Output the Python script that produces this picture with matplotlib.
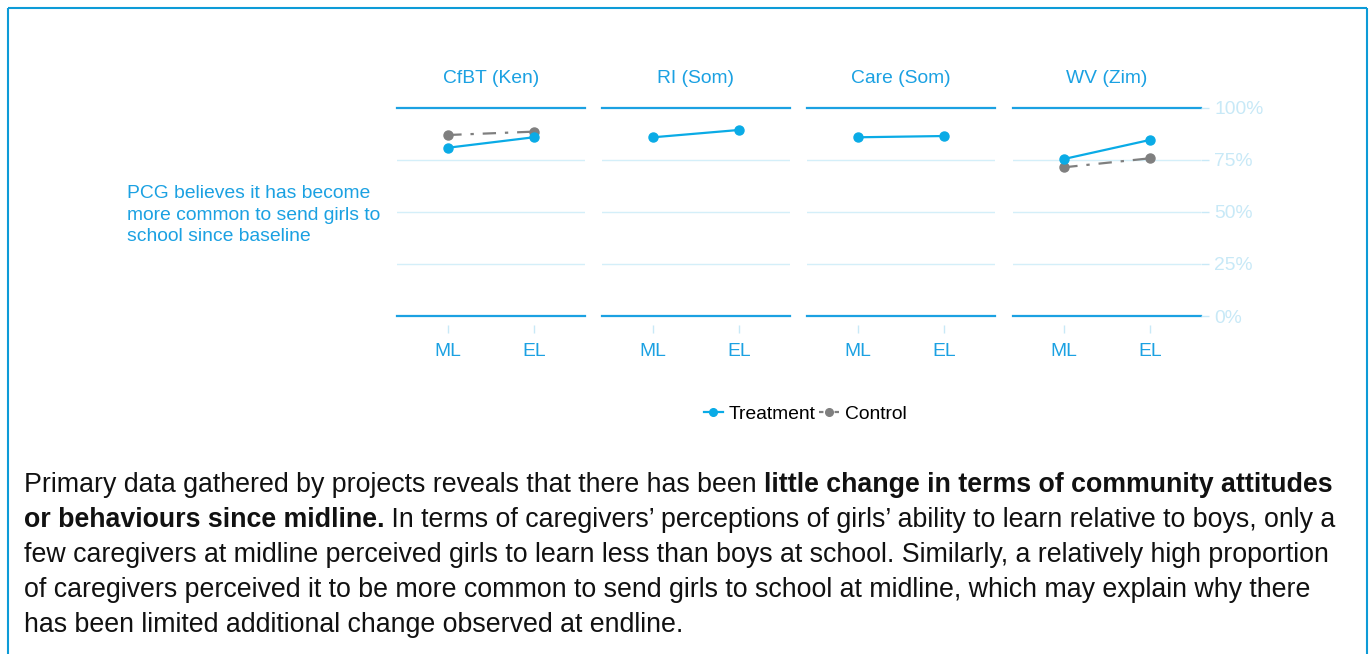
import matplotlib
matplotlib.use("Agg")
import matplotlib.pyplot as plt
from matplotlib.lines import Line2D

plt.rcParams['font.family'] = ['Liberation Sans', 'DejaVu Sans']

# ---------------- data ----------------
projects = ["CfBT (Ken)", "RI (Som)", "Care (Som)", "WV (Zim)"]
rounds = ["ML", "EL"]
treatment = [[80.8, 85.8], [85.8, 89.3], [85.8, 86.4], [75.4, 84.5]]
control = [[86.9, 88.5], None, None, [71.4, 75.7]]
y_ticks = [0, 25, 50, 75, 100]
y_tick_labels = ["0%", "25%", "50%", "75%", "100%"]
row_label = "PCG believes it has become\nmore common to send girls to\nschool since baseline"
legend_labels = ["Treatment", "Control"]

para_lines = [
    [("Primary data gathered by projects reveals that there has been ", "normal"),
     ("little change in terms of community attitudes", "bold")],
    [("or behaviours since midline.", "bold"),
     (" In terms of caregivers\u2019 perceptions of girls\u2019 ability to learn relative to boys, only a", "normal")],
    [("few caregivers at midline perceived girls to learn less than boys at school. Similarly, a relatively high proportion", "normal")],
    [("of caregivers perceived it to be more common to send girls to school at midline, which may explain why there", "normal")],
    [("has been limited additional change observed at endline.", "normal")],
]

# ---------------- style ----------------
W, H = 1370, 654
BLUE = "#1ba1e2"
BORDER = "#0d9bd7"
TREAT = "#0aabe6"
GREY = "#7f7f7f"
GRID = "#d4eff9"
LIGHT = "#c8e9f7"
FS = 13.9

fig = plt.figure(figsize=(W / 100, H / 100), dpi=100)

def fx(px):
    return px / W

def fy(py):
    return 1 - py / H

# border
bax = fig.add_axes([0, 0, 1, 1])
bax.set_xlim(0, W)
bax.set_ylim(H, 0)
bax.axis("off")
bax.plot([8, 1367], [8, 8], color=BORDER, lw=1.5, solid_capstyle="butt")
bax.plot([8, 8], [8, H], color=BORDER, lw=1.5, solid_capstyle="butt")
bax.plot([1367, 1367], [8, H], color=BORDER, lw=1.5, solid_capstyle="butt")

panel_left = [397, 602, 807, 1013]
panel_w = 188
top_px, bot_px = 107.7, 316

x = [1, 2]
for i, name in enumerate(projects):
    ax = fig.add_axes([fx(panel_left[i]), fy(bot_px), fx(panel_w), (bot_px - top_px) / H])
    ax.set_xlim(0.4, 2.6)
    ax.set_ylim(0, 100)
    for s in ["top", "left", "right"]:
        ax.spines[s].set_visible(False)
    ax.spines["bottom"].set_visible(False)
    ax.spines["bottom"].set_position(("outward", 6.5))
    ax.set_facecolor("none")
    for g in [25, 50, 75]:
        ax.axhline(g, color=GRID, lw=1.0, zorder=0)
    ax.axhline(100, color=BLUE, lw=1.6, zorder=1, clip_on=False)
    ax.axhline(0, color=BLUE, lw=1.6, zorder=1, clip_on=False)
    if control[i] is not None:
        ax.plot(x, control[i], color=GREY, lw=1.6, ls=(0, (6, 4, 1.5, 4)),
                marker="o", ms=6.5, zorder=3, clip_on=False)
    ax.plot(x, treatment[i], color=TREAT, lw=1.6, marker="o", ms=6.5,
            zorder=4, clip_on=False)
    ax.set_xticks(x)
    ax.set_xticklabels(rounds)
    ax.tick_params(axis="x", colors=LIGHT, length=5.5, width=1, pad=7.2,
                   labelcolor=BLUE, labelsize=FS)
    if i == len(projects) - 1:
        ax.yaxis.tick_right()
        ax.set_yticks(y_ticks)
        ax.set_yticklabels(y_tick_labels)
        ax.tick_params(axis="y", colors=LIGHT, length=6, width=1, pad=3.5,
                       labelcolor=LIGHT, labelsize=FS)
    else:
        ax.set_yticks([])
    fig.text(fx(panel_left[i] + panel_w / 2), fy(78.5), name, ha="center",
             va="center", color=BLUE, fontsize=FS)

fig.text(fx(127), fy(215), row_label, ha="left", va="center", color=BLUE,
         fontsize=FS, linespacing=1.32)

handles = [Line2D([], [], color=TREAT, marker="o", lw=1.6, ms=5.5),
           Line2D([], [], color=GREY, marker="o", lw=1.6, ms=5.5, ls=(0, (2, 1.5)))]
fig.legend(handles, legend_labels, loc="center", bbox_to_anchor=(fx(805), fy(414)),
           ncol=2, frameon=False, fontsize=FS, handlelength=1.0, handletextpad=0.3,
           columnspacing=0.2)

# paragraph with mixed bold
fig.canvas.draw()
renderer = fig.canvas.get_renderer()
para_size = 19.3
y0 = 485
for k, line in enumerate(para_lines):
    cur = 24
    for txt, wgt in line:
        t = fig.text(fx(cur), fy(y0 + 35 * k), txt, ha="left", va="center",
                     fontsize=para_size, fontweight=wgt, color="#111111")
        bb = t.get_window_extent(renderer=renderer)
        cur += bb.width

fig.savefig("out.png", dpi=100)
